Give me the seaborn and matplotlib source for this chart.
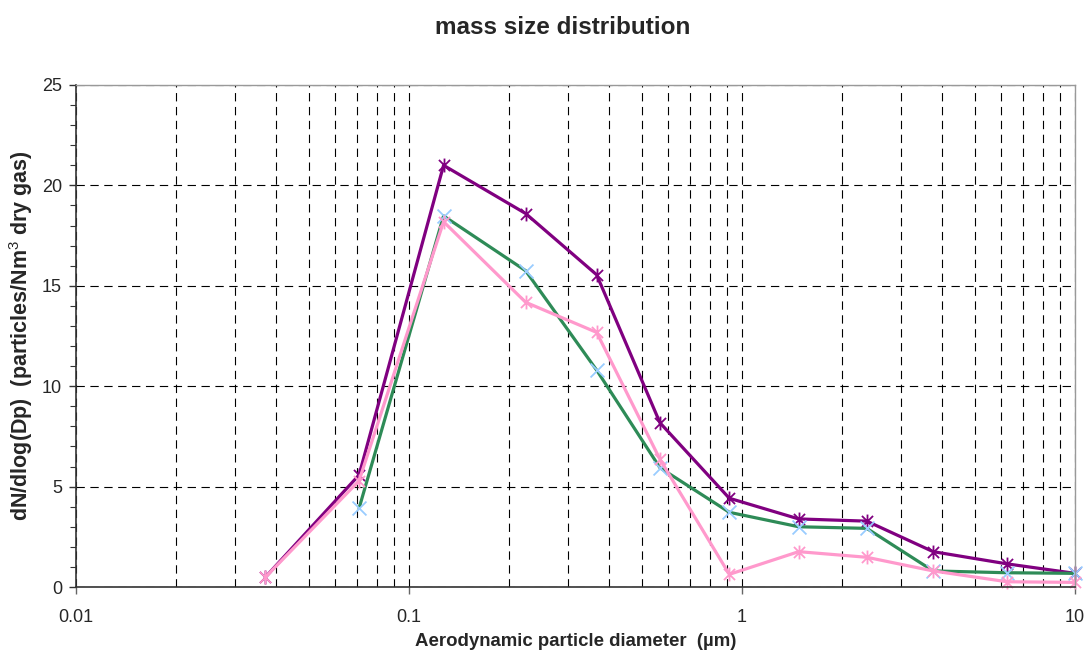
import numpy as np
import pandas as pd
import matplotlib
matplotlib.use("Agg")
import matplotlib.pyplot as plt
from matplotlib.path import Path
from matplotlib.ticker import FixedLocator, FixedFormatter, MultipleLocator, LogLocator, NullFormatter
import seaborn as sns

# ---- data ----
diameter = [0.037, 0.0708, 0.127, 0.224, 0.366, 0.567, 0.916, 1.48, 2.37, 3.75, 6.26, 10.0]
series_purple = [0.48, 5.58, 21.0, 18.6, 15.55, 8.18, 4.42, 3.39, 3.28, 1.76, 1.15, 0.68]
series_green = [np.nan, 3.92, 18.48, 15.75, 10.8, 5.94, 3.72, 3.0, 2.92, 0.8, 0.71, 0.68]
series_pink = [0.48, 5.29, 18.19, 14.18, 12.68, 6.36, 0.63, 1.76, 1.48, 0.8, 0.26, 0.23]

title = "mass size distribution"
xlabel = "Aerodynamic particle diameter  (\u00b5m)"
ylabel = "dN/dlog(Dp)  (particles/Nm$^3$ dry gas)"
xtick_vals = [0.01, 0.1, 1, 10]
xtick_labels = ["0.01", "0.1", "1", "10"]

sns.set_theme(style="white")
plt.rcParams["font.family"] = ["Liberation Sans", "DejaVu Sans"]
plt.rcParams["mathtext.fontset"] = "custom"
plt.rcParams["mathtext.rm"] = "Liberation Sans"
plt.rcParams["mathtext.bf"] = "Liberation Sans:bold"
plt.rcParams["lines.scale_dashes"] = False

fig = plt.figure(figsize=(10.87, 6.55), dpi=100)
ax = fig.add_axes([76 / 1087, 1 - 587 / 655, (1075 - 76) / 1087, (587 - 85) / 655])

star = Path([(-1, -1), (1, 1), (-1, 1), (1, -1), (0, -1.25), (0, 1.25)],
            [Path.MOVETO, Path.LINETO, Path.MOVETO, Path.LINETO, Path.MOVETO, Path.LINETO])
cross = Path([(-1, -1), (1, 1), (-1, 1), (1, -1)],
             [Path.MOVETO, Path.LINETO, Path.MOVETO, Path.LINETO])

df = pd.DataFrame({"d": diameter, "purple": series_purple,
                   "green": series_green, "pink": series_pink})

specs = [
    ("purple", "#800080", "#800080", star),
    ("green", "#2E8B57", "#99CCFF", cross),
    ("pink", "#FF99CC", "#FF99CC", star),
]
for col, lc, mc, mk in specs:
    sub = df[["d", col]].dropna()
    sns.lineplot(data=sub, x="d", y=col, ax=ax, color=lc, linewidth=2.3,
                 marker=mk, markersize=10, markeredgecolor=mc,
                 markerfacecolor="none", markeredgewidth=1.3,
                 clip_on=False, estimator=None, sort=False)

ax.set_xscale("log")
ax.set_xlim(0.01, 10)
ax.set_ylim(0, 25)

ax.xaxis.set_major_locator(FixedLocator(xtick_vals))
ax.xaxis.set_major_formatter(FixedFormatter(xtick_labels))
ax.xaxis.set_minor_locator(LogLocator(base=10, subs=np.arange(2, 10)))
ax.xaxis.set_minor_formatter(NullFormatter())
ax.yaxis.set_major_locator(MultipleLocator(5))
ax.yaxis.set_minor_locator(MultipleLocator(1))

ax.grid(True, which="major", axis="both", color="black", linestyle=(0, (6, 4)), linewidth=0.8)
ax.grid(True, which="minor", axis="x", color="black", linestyle=(0, (6, 4)), linewidth=0.8)

ax.tick_params(axis="x", which="major", direction="out", length=5, width=1, color="#666666",
               labelsize=13, pad=11, bottom=True)
ax.tick_params(axis="x", which="minor", length=0)
ax.tick_params(axis="y", which="major", direction="out", length=5, width=1, color="#333333",
               labelsize=13, pad=5, left=True)
ax.tick_params(axis="y", which="minor", direction="out", length=4, width=0.8, color="#333333", left=True)

for s in ["left", "bottom"]:
    ax.spines[s].set_color("#333333")
    ax.spines[s].set_linewidth(1.2)
for s in ["top", "right"]:
    ax.spines[s].set_color("#999999")
    ax.spines[s].set_linewidth(1.0)

ax.set_xlabel(xlabel, fontsize=13.4, fontweight="bold")
ax.xaxis.set_label_coords(0.5, -(633 - 587) / 502)
ax.set_ylabel(ylabel, fontsize=15.5, fontweight="bold")
ax.yaxis.set_label_coords(-(76 - 35) / 999, 0.5)
fig.text(563 / 1087, 1 - 27 / 655, title, ha="center", va="center", fontsize=17.5, fontweight="bold")

fig.savefig("out.png", dpi=100, facecolor="white")
